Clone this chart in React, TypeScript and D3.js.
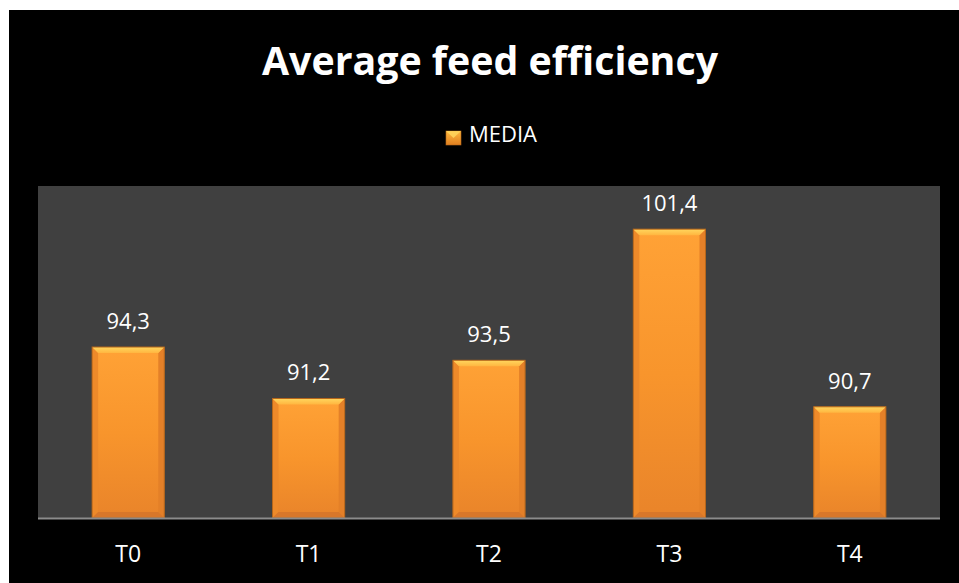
import React from "react";
import * as d3 from "d3";

const categories = ["T0", "T1", "T2", "T3", "T4"];
const values = [94.3, 91.2, 93.5, 101.4, 90.7];
const valueLabels = ["94,3", "91,2", "93,5", "101,4", "90,7"];
const seriesName = "MEDIA";
const title = "Average feed efficiency";

const W = 959;
const H = 583;
const plot = { left: 38, right: 940, top: 186, bottom: 518 };
const FONT = "'Open Sans', 'Noto Sans', sans-serif";

export default function App() {
  const x = d3
    .scaleBand<string>()
    .domain(categories)
    .range([plot.left, plot.right])
    .paddingInner(0.6)
    .paddingOuter(0.3);
  const y = d3.scaleLinear().domain([84, 104]).range([plot.bottom, plot.top]);
  const bw = x.bandwidth();
  const bev = 6;

  return (
    <svg
      width={W}
      height={H}
      style={{ position: "absolute", left: 0, top: 0, display: "block" }}
      fontFamily={FONT}
    >
      <defs>
        <linearGradient id="barFill" x1="0" y1="0" x2="0" y2="1">
          <stop offset="0" stopColor="#FFA236" />
          <stop offset="0.5" stopColor="#F8952C" />
          <stop offset="1" stopColor="#E9842A" />
        </linearGradient>
        <linearGradient id="topBev" x1="0" y1="0" x2="0" y2="1">
          <stop offset="0" stopColor="#FFD65E" />
          <stop offset="1" stopColor="#FFB640" />
        </linearGradient>
        <linearGradient id="legFill" x1="0" y1="0" x2="0" y2="1">
          <stop offset="0" stopColor="#FFB83E" />
          <stop offset="1" stopColor="#E07F20" />
        </linearGradient>
      </defs>
      <rect x={0} y={0} width={W} height={H} fill="#ffffff" />
      <rect x={9} y={10} width={W - 9} height={H - 10} fill="#000000" />
      <text
        x={490}
        y={75}
        textAnchor="middle"
        fill="#ffffff"
        fontWeight="bold"
        fontSize={39}
        textLength={456}
        lengthAdjust="spacingAndGlyphs"
      >
        {title}
      </text>
      {/* legend */}
      <g>
        <rect x={446} y={131} width={15} height={14} fill="url(#legFill)" stroke="#B86A1A" strokeWidth={0.6} />
        <polygon points="446,131 461,131 453.5,138" fill="#FFD65E" opacity={0.85} />
        <text x={469} y={142} fill="#ffffff" fontSize={22}>
          {seriesName}
        </text>
      </g>
      <rect
        x={plot.left}
        y={plot.top}
        width={plot.right - plot.left}
        height={plot.bottom - plot.top}
        fill="#404040"
      />
      {categories.map((c, i) => {
        const x0 = x(c)!;
        const x1 = x0 + bw;
        const y0 = y(values[i]);
        const y1 = plot.bottom;
        return (
          <g key={c}>
            <rect x={x0} y={y0} width={bw} height={y1 - y0} fill="url(#barFill)" />
            <polygon
              points={`${x0},${y0} ${x0 + bev},${y0 + bev} ${x0 + bev},${y1 - bev} ${x0},${y1}`}
              fill="#EE8A2A"
            />
            <polygon
              points={`${x1},${y0} ${x1 - bev},${y0 + bev} ${x1 - bev},${y1 - bev} ${x1},${y1}`}
              fill="#E48028"
            />
            <polygon
              points={`${x0},${y1} ${x0 + bev},${y1 - bev} ${x1 - bev},${y1 - bev} ${x1},${y1}`}
              fill="#D8772A"
            />
            <polygon
              points={`${x0},${y0} ${x1},${y0} ${x1 - bev},${y0 + bev} ${x0 + bev},${y0 + bev}`}
              fill="url(#topBev)"
            />
            <rect x={x0} y={y0} width={bw} height={y1 - y0} fill="none" stroke="#B5661C" strokeWidth={1} />
            <text x={x0 + bw / 2} y={y0 - 18} textAnchor="middle" fill="#ffffff" fontSize={22}>
              {valueLabels[i]}
            </text>
            <text x={x0 + bw / 2} y={562} textAnchor="middle" fill="#ffffff" fontSize={23}>
              {c}
            </text>
          </g>
        );
      })}
      <line x1={plot.left} x2={plot.right} y1={plot.bottom + 0.5} y2={plot.bottom + 0.5} stroke="#8C8C8C" strokeWidth={2} />
    </svg>
  );
}
